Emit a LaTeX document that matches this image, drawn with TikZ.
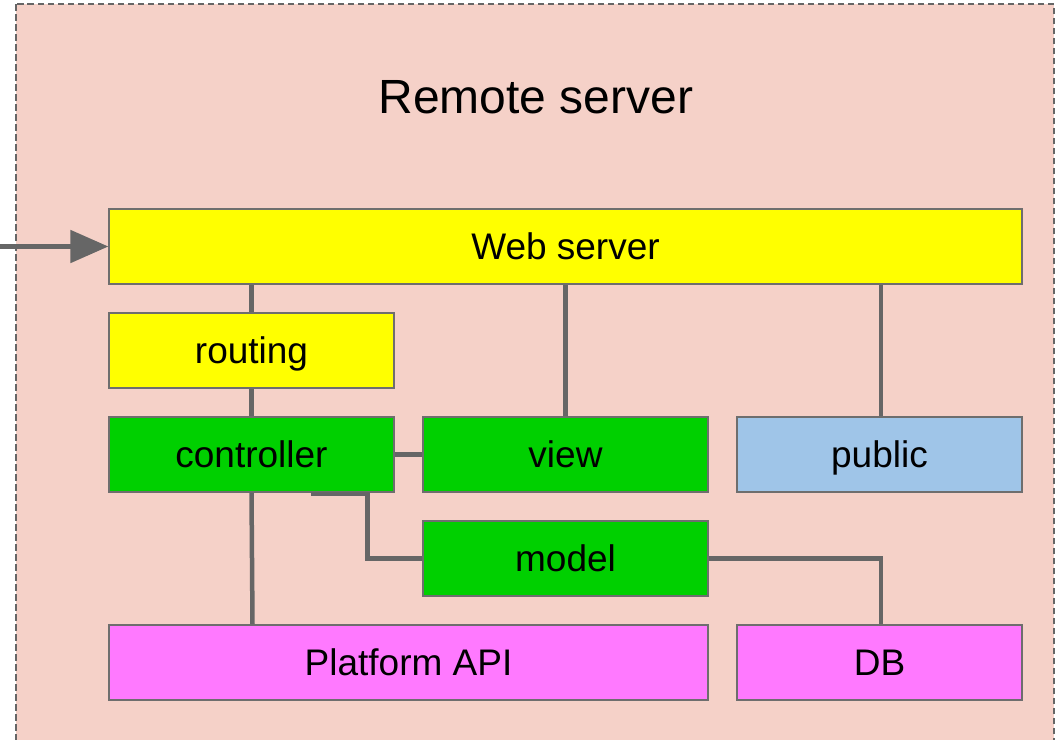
\documentclass[tikz,border=0pt]{standalone}
\usepackage{fontspec}
\setmainfont{Liberation Sans}
\usetikzlibrary{arrows.meta}
\definecolor{zone}{HTML}{F5D1C8}
\definecolor{linegray}{HTML}{666666}
\definecolor{edgegray}{HTML}{6E6E6E}
\definecolor{ylw}{HTML}{FFFF00}
\definecolor{grn}{HTML}{00D000}
\definecolor{blu}{HTML}{9FC5E8}
\definecolor{mag}{HTML}{FF79FF}
\tikzset{
  block/.style={draw=edgegray, line width=1.2pt, minimum height=75pt, inner sep=0pt,
    font=\fontsize{37}{44}\selectfont, text height=28pt, text depth=2pt},
  wire/.style={draw=linegray, line width=4.5pt},
}
\begin{document}
\begin{tikzpicture}[x=1pt,y=-1pt]
  \useasboundingbox (0,0) rectangle (1059,739);
  % server zone
  \begin{scope}
    \clip (0,0) rectangle (1059,739);
    \fill[zone] (16,4) rectangle (1054,760);
    \draw[linegray, line width=1.4pt, dash pattern=on 6.5pt off 3.5pt] (16,4) rectangle (1054,760);
  \end{scope}
  \node[font=\fontsize{48}{56}\selectfont] (title) at (536,97) {Remote server};

  % blocks
  \node[block, fill=ylw, minimum width=913pt] (web) at (565.5,246.5) {Web server};
  \node[block, fill=ylw, minimum width=285pt] (routing) at (251.5,350.5) {routing};
  \node[block, fill=grn, minimum width=285pt] (controller) at (251.5,454.5) {controller};
  \node[block, fill=grn, minimum width=285pt] (view) at (565.5,454.5) {view};
  \node[block, fill=blu, minimum width=285pt] (public) at (879.5,454.5) {public};
  \node[block, fill=grn, minimum width=285pt] (model) at (565.5,558.5) {model};
  \node[block, fill=mag, minimum width=599pt] (api) at (408.5,662.5) {Platform API};
  \node[block, fill=mag, minimum width=285pt] (db) at (879.5,662.5) {DB};

  % incoming request
  \coordinate (client) at (0,246.5);
  \draw[linegray, line width=5pt, -{Triangle[length=38pt,width=32pt]}] (client) -- (web.west);

  % connectors
  \draw[wire] (routing.north) -- (routing.north |- web.south);
  \draw[wire] (routing.south) -- (controller.north);
  \draw[wire] (view.north) -- (view.north |- web.south);
  \draw[wire] ([xshift=1.5pt]public.north) -- ([xshift=1.5pt]public.north |- web.south);
  \draw[wire] (controller.east) -- (view.west);
  \draw[wire] (controller.south) -- ([xshift=1pt]api.north -| controller.south);
  \coordinate (cm) at ([xshift=-84pt,yshift=-1.5pt]controller.south east);
  \draw[wire] (cm) -- ++(57,0) |- (model.west);
  \draw[wire] (model.east) -| ([xshift=1.5pt]db.north);
\end{tikzpicture}
\end{document}
